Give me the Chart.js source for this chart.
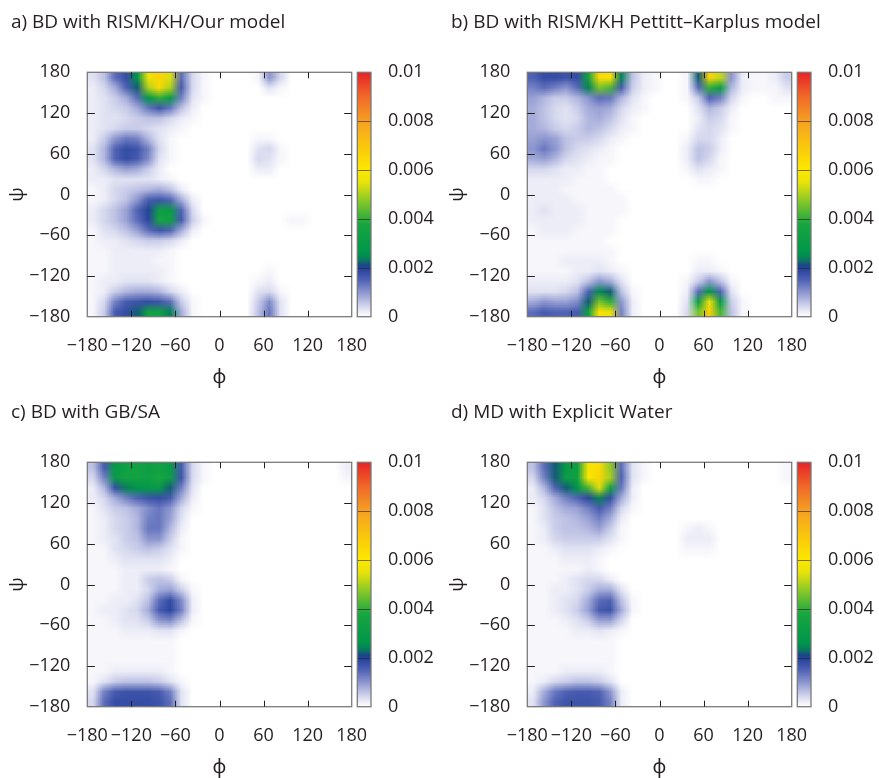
<!DOCTYPE html>
<html>
<head>
<meta charset="utf-8">
<script src="https://cdn.jsdelivr.net/npm/chart.js@4.4.1/dist/chart.umd.min.js"></script>
<style>
body { margin: 0; background: #fff; }
#wrap { position: relative; width: 879px; height: 778px; overflow: hidden; }
canvas { position: absolute; }
</style>
</head>
<body>
<div id="wrap">
<canvas id="pa" width="440" height="390" style="left:0;top:0"></canvas>
<canvas id="pb" width="439" height="390" style="left:440px;top:0"></canvas>
<canvas id="pc" width="440" height="388" style="left:0;top:390px"></canvas>
<canvas id="pd" width="439" height="388" style="left:440px;top:390px"></canvas>
</div>
<script>
// axes
const phiTicks = [-180, -120, -60, 0, 60, 120, 180];
const psiTicks = [-180, -120, -60, 0, 60, 120, 180];
const cbTicks = [0, 0.002, 0.004, 0.006, 0.008, 0.01];

const titleA = "a) BD with RISM/KH/Our model";
const titleB = "b) BD with RISM/KH Pettitt\u2013Karplus model";
const titleC = "c) BD with GB/SA";
const titleD = "d) MD with Explicit Water";

// probability density x 1e-4, 15 degree bins
// rows: psi from 180 (top) down to -180, columns: phi from -180 to 180
const densA = [
  [3,6,14,18,26,56,66,54,14,4,1,0,0,0,0,1,10,4,0,0,0,0,0,0],
  [2,4,8,15,22,50,64,50,16,4,1,0,0,0,0,0,3,1,0,0,0,0,0,0],
  [2,3,5,8,14,26,40,30,12,3,1,0,0,0,0,0,0,0,0,0,0,0,0,0],
  [2,3,4,5,8,13,17,13,6,2,0,0,0,0,0,0,0,0,0,0,0,0,0,0],
  [2,3,3,4,5,6,6,4,2,1,0,0,0,0,0,0,0,0,0,0,0,0,0,0],
  [2,3,4,5,5,4,3,2,1,0,0,0,0,0,0,0,0,0,0,0,0,0,0,0],
  [2,5,10,13,12,7,3,1,0,0,0,0,0,0,0,1,1,0,0,0,0,0,0,0],
  [3,7,15,18,17,12,4,1,0,0,0,0,0,0,0,3,4,1,0,0,0,0,0,0],
  [3,7,15,18,16,11,3,1,0,0,0,0,0,0,0,4,3,1,0,0,0,0,0,0],
  [2,4,7,9,8,5,2,0,0,0,0,0,0,0,0,2,2,0,0,0,0,0,0,0],
  [2,2,3,3,3,3,2,1,0,0,0,0,0,0,0,0,0,0,0,0,0,0,0,0],
  [1,2,4,5,6,7,8,6,2,0,0,0,0,0,0,0,0,0,0,0,0,0,0,0],
  [1,2,4,6,10,16,17,15,8,2,0,0,0,0,0,0,0,0,0,0,0,0,0,0],
  [2,4,6,9,15,20,33,31,15,4,0,0,0,0,0,0,0,0,0,0,0,0,0,0],
  [2,4,6,9,14,19,37,34,16,5,1,0,0,0,0,0,0,0,1,1,0,0,0,0],
  [1,3,4,6,9,14,17,15,8,2,0,0,0,0,0,0,0,0,0,0,0,0,0,0],
  [1,2,2,3,4,5,5,4,2,0,0,0,0,0,0,0,0,0,0,0,0,0,0,0],
  [1,1,2,2,2,2,2,1,0,0,0,0,0,0,0,0,0,0,0,0,0,0,0,0],
  [1,1,2,2,2,2,1,1,0,0,0,0,0,0,0,0,0,0,0,0,0,0,0,0],
  [1,1,2,2,2,2,2,1,0,0,0,0,0,0,0,0,1,0,0,0,0,0,0,0],
  [1,2,2,3,3,3,2,1,0,0,0,0,0,0,0,1,2,0,0,0,0,0,0,0],
  [1,2,5,7,8,8,7,4,2,0,0,0,0,0,0,3,4,1,0,0,0,0,0,0],
  [1,4,12,16,17,18,17,14,5,1,0,0,0,0,0,5,11,3,0,0,0,0,0,0],
  [1,5,16,18,22,35,35,24,8,1,0,0,0,0,0,6,13,3,0,0,0,0,0,0]
];
const densB = [
  [15,18,18,17,18,36,64,62,24,6,2,1,0,0,1,22,66,52,10,2,1,1,2,5],
  [12,14,12,10,14,24,46,42,16,5,2,1,0,0,1,14,40,30,7,2,1,1,1,3],
  [9,7,5,5,7,10,14,13,7,3,1,0,0,0,1,5,15,12,4,1,0,0,1,1],
  [8,6,4,3,5,8,9,8,4,2,1,0,0,0,0,3,7,5,2,0,0,0,0,0],
  [8,6,4,3,4,7,8,6,3,1,0,0,0,0,0,2,5,4,1,0,0,0,0,0],
  [8,7,5,4,5,7,6,4,2,1,0,0,0,0,0,3,4,3,1,0,0,0,0,0],
  [9,10,9,6,5,5,4,2,1,0,0,0,0,0,1,4,4,2,0,0,0,0,0,0],
  [10,13,10,6,4,3,2,1,0,0,0,0,0,0,2,6,5,2,0,0,0,0,0,0],
  [8,9,7,4,3,2,1,1,0,0,0,0,0,0,2,6,4,1,0,0,0,0,0,0],
  [4,4,3,2,2,1,1,0,0,0,0,0,0,0,1,3,2,1,0,0,0,0,0,0],
  [2,2,2,2,1,1,1,0,0,0,0,0,0,0,0,1,1,0,0,0,0,0,0,0],
  [2,2,2,1,1,1,1,1,0,0,0,0,0,0,0,0,0,0,0,0,0,0,0,0],
  [2,2,2,2,1,1,1,1,1,0,0,0,0,0,0,0,0,0,0,0,0,0,0,0],
  [2,3,2,2,2,1,1,1,1,0,0,0,0,0,0,0,0,0,0,0,0,0,0,0],
  [2,2,2,2,2,1,1,1,0,0,0,0,0,0,0,0,0,0,0,0,0,0,0,0],
  [1,2,2,2,1,1,1,1,0,0,0,0,0,0,0,0,0,0,0,0,0,0,0,0],
  [1,1,1,1,1,1,1,0,0,0,0,0,0,0,0,0,0,0,0,0,0,0,0,0],
  [1,1,1,1,1,1,1,1,0,0,0,0,0,0,0,0,0,0,0,0,0,0,0,0],
  [1,1,1,2,2,2,2,1,0,0,0,0,0,0,0,1,1,0,0,0,0,0,0,0],
  [1,1,1,1,2,2,3,2,1,0,0,0,0,0,0,2,2,1,0,0,0,0,0,0],
  [2,2,2,2,3,6,10,8,3,0,0,0,0,0,1,5,10,6,1,0,0,0,0,0],
  [3,3,3,4,6,15,25,22,6,1,0,0,0,0,2,14,28,15,3,0,0,0,0,0],
  [8,10,9,9,11,22,46,40,10,2,0,0,0,0,3,32,56,30,5,1,0,0,0,0],
  [14,16,15,15,16,34,62,56,12,2,0,0,0,0,4,46,68,42,6,1,0,0,0,0]
];
const densC = [
  [6,16,30,34,35,33,34,30,16,4,1,0,0,0,0,0,0,0,0,0,0,0,0,2],
  [4,12,30,36,36,33,38,33,17,4,1,0,0,0,0,0,0,0,0,0,0,0,0,1],
  [2,7,18,24,26,28,30,22,12,3,0,0,0,0,0,0,0,0,0,0,0,0,0,0],
  [2,4,8,12,15,17,18,16,8,2,0,0,0,0,0,0,0,0,0,0,0,0,0,0],
  [1,3,5,6,8,11,13,10,4,1,0,0,0,0,0,0,0,0,0,0,0,0,0,0],
  [1,2,4,5,7,12,13,9,3,0,0,0,0,0,0,0,0,0,0,0,0,0,0,0],
  [1,2,4,5,7,13,13,7,2,0,0,0,0,0,0,0,0,0,0,0,0,0,0,0],
  [1,2,3,5,6,10,10,5,1,0,0,0,0,0,0,0,0,0,0,0,0,0,0,0],
  [1,1,3,4,5,6,5,3,1,0,0,0,0,0,0,0,0,0,0,0,0,0,0,0],
  [1,1,2,3,3,3,3,2,0,0,0,0,0,0,0,0,0,0,0,0,0,0,0,0],
  [1,1,1,2,2,2,2,1,0,0,0,0,0,0,0,0,0,0,0,0,0,0,0,0],
  [1,1,1,2,2,5,6,5,1,0,0,0,0,0,0,0,0,0,0,0,0,0,0,0],
  [1,1,1,2,2,4,8,9,5,1,0,0,0,0,0,0,0,0,0,0,0,0,0,0],
  [1,1,2,2,3,6,14,18,11,2,0,0,0,0,0,0,0,0,0,0,0,0,0,0],
  [1,2,2,3,4,8,16,19,12,2,0,0,0,0,0,0,0,0,0,0,0,0,0,0],
  [1,1,2,3,3,5,10,11,6,1,0,0,0,0,0,0,0,0,0,0,0,0,0,0],
  [1,1,1,2,2,2,3,3,1,0,0,0,0,0,0,0,0,0,0,0,0,0,0,0],
  [1,1,1,1,1,1,1,1,0,0,0,0,0,0,0,0,0,0,0,0,0,0,0,0],
  [1,1,1,1,1,1,1,1,0,0,0,0,0,0,0,0,0,0,0,0,0,0,0,0],
  [1,1,1,1,1,1,1,1,0,0,0,0,0,0,0,0,0,0,0,0,0,0,0,0],
  [1,1,2,2,2,2,2,1,0,0,0,0,0,0,0,0,0,0,0,0,0,0,0,0],
  [1,3,5,6,6,6,5,3,1,0,0,0,0,0,0,0,0,0,0,0,0,0,0,0],
  [3,12,16,17,17,17,16,12,3,0,0,0,0,0,0,0,0,0,0,0,0,0,0,0],
  [4,14,18,18,18,18,17,14,3,0,0,0,0,0,0,0,0,0,0,0,0,0,0,0]
];
const densD = [
  [6,14,22,30,33,58,64,48,14,3,1,0,0,0,0,0,0,0,0,0,0,0,0,1],
  [4,12,22,32,34,60,66,50,15,3,1,0,0,0,0,0,0,0,0,0,0,0,0,1],
  [2,7,15,22,26,42,54,34,13,2,0,0,0,0,0,0,0,0,0,0,0,0,0,0],
  [2,4,8,12,15,19,24,18,8,2,0,0,0,0,0,0,0,0,0,0,0,0,0,0],
  [1,3,6,8,9,12,16,12,4,1,0,0,0,0,0,0,0,0,0,0,0,0,0,0],
  [1,3,5,6,7,9,12,8,2,0,0,0,0,0,0,0,0,0,0,0,0,0,0,0],
  [1,2,5,6,6,7,9,5,1,0,0,0,0,0,1,2,1,0,0,0,0,0,0,0],
  [1,2,4,5,5,5,5,3,1,0,0,0,0,0,2,2,2,0,0,0,0,0,0,0],
  [1,1,2,3,3,3,2,1,0,0,0,0,0,0,1,1,1,0,0,0,0,0,0,0],
  [1,1,1,2,2,2,1,0,0,0,0,0,0,0,0,0,0,0,0,0,0,0,0,0],
  [1,1,1,1,1,2,1,0,0,0,0,0,0,0,0,0,0,0,0,0,0,0,0,0],
  [1,1,1,2,3,4,4,2,0,0,0,0,0,0,0,0,0,0,0,0,0,0,0,0],
  [1,1,2,2,3,5,8,8,3,0,0,0,0,0,0,0,0,0,0,0,0,0,0,0],
  [1,1,2,3,4,8,14,15,6,1,0,0,0,0,0,0,0,0,0,0,0,0,0,0],
  [1,1,2,3,5,9,16,17,8,1,0,0,0,0,0,0,0,0,0,0,0,0,0,0],
  [1,1,1,2,3,5,9,9,4,0,0,0,0,0,0,0,0,0,0,0,0,0,0,0],
  [1,1,1,1,2,2,3,2,1,0,0,0,0,0,0,0,0,0,0,0,0,0,0,0],
  [1,1,1,1,1,1,1,1,0,0,0,0,0,0,0,0,0,0,0,0,0,0,0,0],
  [1,1,1,1,1,1,1,1,0,0,0,0,0,0,0,0,0,0,0,0,0,0,0,0],
  [1,1,1,1,1,1,1,1,0,0,0,0,0,0,0,0,0,0,0,0,0,0,0,0],
  [1,1,1,2,2,2,2,1,0,0,0,0,0,0,0,0,0,0,0,0,0,0,0,0],
  [1,2,4,5,6,6,5,3,0,0,0,0,0,0,0,0,0,0,0,0,0,0,0,0],
  [2,8,13,15,16,16,15,10,2,0,0,0,0,0,0,0,0,0,0,0,0,0,0,0],
  [3,10,15,17,17,17,16,12,2,0,0,0,0,0,0,0,0,0,0,0,0,0,0,0]
];

// colour map, stops in units of 1e-4
const palette = [
  [0, [255,255,255]], [1, [246,246,251]], [2, [236,237,247]], [4, [214,216,238]],
  [6, [190,194,228]], [10, [140,150,207]], [15, [80,98,180]], [19, [44,70,160]],
  [21, [28,68,140]], [23, [10,118,96]], [26, [0,150,75]], [38, [24,166,64]],
  [46, [120,195,45]], [55, [232,226,10]], [60, [252,232,0]], [70, [250,198,12]],
  [80, [245,160,35]], [90, [240,105,40]], [100, [230,35,40]]
];

const ink = '#231f20';
const fam = "'Open Sans', 'Noto Sans', sans-serif";

function colorFor(v) {
  if (v <= palette[0][0]) return palette[0][1];
  for (let k = 1; k < palette.length; k++) {
    if (v <= palette[k][0]) {
      const [v0, c0] = palette[k - 1], [v1, c1] = palette[k];
      const t = (v - v0) / (v1 - v0);
      return c0.map((c, n) => Math.round(c + (c1[n] - c) * t));
    }
  }
  return palette[palette.length - 1][1];
}

function fmtAngle(v) {
  return String(v).replace('-', '\u2212');
}

function makeChart(id, title, dens) {
  const canvas = document.getElementById(id);
  const W = canvas.width;

  // density grid as a tiny image, one pixel per bin
  const rows = dens.length, cols = dens[0].length;
  const off = document.createElement('canvas');
  off.width = cols;
  off.height = rows;
  const octx = off.getContext('2d');
  const im = octx.createImageData(cols, rows);
  for (let j = 0; j < rows; j++) {
    for (let i = 0; i < cols; i++) {
      const c = colorFor(dens[j][i]);
      const p = (j * cols + i) * 4;
      im.data[p] = c[0]; im.data[p + 1] = c[1]; im.data[p + 2] = c[2]; im.data[p + 3] = 255;
    }
  }
  octx.putImageData(im, 0, 0);

  const heat = {
    id: 'heat',
    beforeDatasetsDraw(chart) {
      const {ctx, scales: {x, y}} = chart;
      const x0 = x.getPixelForValue(phiTicks[0]), x1 = x.getPixelForValue(phiTicks[phiTicks.length - 1]);
      const y0 = y.getPixelForValue(psiTicks[psiTicks.length - 1]), y1 = y.getPixelForValue(psiTicks[0]);
      ctx.save();
      ctx.imageSmoothingEnabled = true;
      ctx.imageSmoothingQuality = 'low';
      ctx.drawImage(off, x0, y0, x1 - x0, y1 - y0);
      ctx.restore();
    },
    afterDraw(chart) {
      const {ctx, chartArea: a, scales: {x, y, cb}} = chart;
      ctx.save();
      // frame
      ctx.strokeStyle = '#7a7a7a';
      ctx.lineWidth = 1.3;
      ctx.strokeRect(a.left, a.top, a.right - a.left, a.bottom - a.top);
      // inward ticks on all four sides
      ctx.strokeStyle = ink;
      ctx.lineWidth = 1;
      ctx.beginPath();
      phiTicks.slice(1, -1).forEach(v => {
        const px = Math.round(x.getPixelForValue(v)) + 0.5;
        ctx.moveTo(px, a.bottom); ctx.lineTo(px, a.bottom - 6);
        ctx.moveTo(px, a.top); ctx.lineTo(px, a.top + 6);
      });
      psiTicks.slice(1, -1).forEach(v => {
        const py = Math.round(y.getPixelForValue(v)) + 0.5;
        ctx.moveTo(a.left, py); ctx.lineTo(a.left + 7.5, py);
        ctx.moveTo(a.right, py); ctx.lineTo(a.right - 7.5, py);
      });
      ctx.stroke();
      // colour bar
      const bx = cb.left + 5.6, bw = 13.7;
      const yTop = cb.getPixelForValue(cbTicks[cbTicks.length - 1]), yBot = cb.getPixelForValue(cbTicks[0]);
      const g = ctx.createLinearGradient(0, yBot, 0, yTop);
      palette.forEach(([v, c]) => g.addColorStop(v / 100, `rgb(${c[0]},${c[1]},${c[2]})`));
      ctx.fillStyle = g;
      ctx.fillRect(bx, yTop, bw, yBot - yTop);
      ctx.strokeStyle = 'rgba(35,31,32,0.6)';
      ctx.beginPath();
      cbTicks.slice(1, -1).forEach(v => {
        const py = Math.round(cb.getPixelForValue(v)) + 0.5;
        ctx.moveTo(bx, py); ctx.lineTo(bx + bw, py);
      });
      ctx.stroke();
      ctx.strokeStyle = '#7a7a7a';
      ctx.lineWidth = 1.3;
      ctx.strokeRect(bx, yTop, bw, yBot - yTop);
      ctx.restore();
    }
  };

  const tickFont = {family: fam, size: 18};
  new Chart(canvas, {
    type: 'scatter',
    data: {datasets: []},
    options: {
      responsive: false,
      animation: false,
      layout: {padding: {left: 11, right: 0, top: 0, bottom: 0}},
      plugins: {
        legend: {display: false},
        tooltip: {enabled: false},
        title: {
          display: true, text: title, align: 'start', color: ink,
          font: {family: fam, size: 19, weight: 'normal', lineHeight: 1.2},
          padding: {top: 11.1, bottom: 38.4}
        }
      },
      scales: {
        x: {
          type: 'linear', position: 'bottom', min: -180, max: 180,
          afterBuildTicks: s => { s.ticks = phiTicks.map(v => ({value: v})); },
          afterFit: s => { s.height = canvas.height - 316.7; },
          grid: {display: false, drawTicks: false},
          border: {display: false},
          ticks: {padding: 18.5, color: ink, font: tickFont, callback: fmtAngle, autoSkip: false, maxRotation: 0, minRotation: 0},
          title: {display: true, text: '\u03d5', color: ink, font: {family: fam, size: 19, lineHeight: 1.2}, padding: {top: 0, bottom: canvas.height - 390 + 0.6}}
        },
        y: {
          type: 'linear', position: 'left', min: -180, max: 180,
          afterBuildTicks: s => { s.ticks = psiTicks.map(v => ({value: v})); },
          afterFit: s => { s.width = 76.3; },
          grid: {display: false, drawTicks: false},
          border: {display: false},
          ticks: {padding: 17, color: ink, font: tickFont, callback: fmtAngle, autoSkip: false},
          title: {display: true, text: '\u03c8', color: ink, font: {family: fam, size: 19, lineHeight: 1}, padding: {top: -3, bottom: 0}}
        },
        cb: {
          type: 'linear', axis: 'y', position: 'right', min: 0, max: 0.01,
          afterBuildTicks: s => { s.ticks = cbTicks.map(v => ({value: v})); },
          afterFit: s => { s.width = W - 351.7; },
          grid: {display: false, drawTicks: false},
          border: {display: false},
          ticks: {padding: 36.3, color: ink, font: tickFont, autoSkip: false, callback: v => String(+v.toFixed(3))}
        }
      }
    },
    plugins: [heat]
  });
}

makeChart('pa', titleA, densA);
makeChart('pb', titleB, densB);
makeChart('pc', titleC, densC);
makeChart('pd', titleD, densD);
</script>
</body>
</html>
